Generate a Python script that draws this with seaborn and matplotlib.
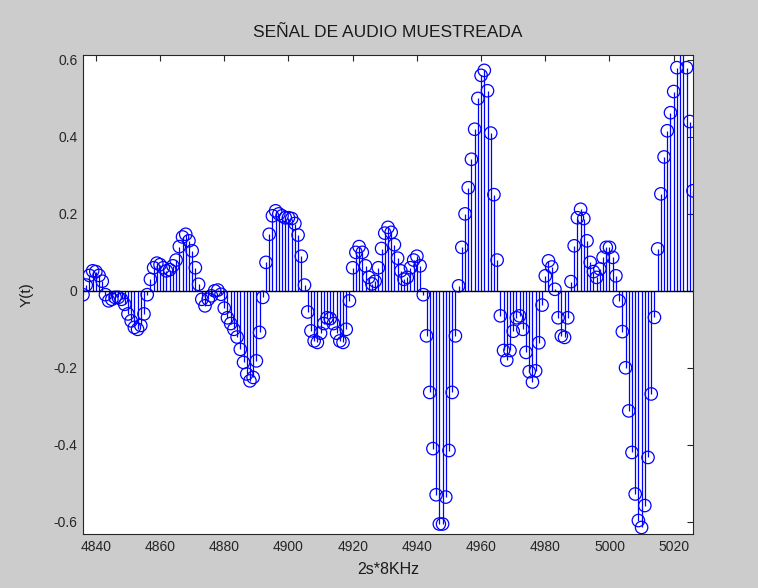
import numpy as np
import pandas as pd
import matplotlib
matplotlib.use("Agg")
import matplotlib.pyplot as plt
import seaborn as sns

# sample index range (n) and sampled audio values Y(t)
sample_start = 4836
sample_stop = 5026
signal_values = [
    -0.010, 0.015, 0.040, 0.052, 0.050, 0.040, 0.025, -0.010, -0.026, -0.022,
    -0.017, -0.017, -0.022, -0.035, -0.060, -0.078, -0.095, -0.100, -0.090, -0.060,
    -0.010, 0.030, 0.060, 0.072, 0.068, 0.060, 0.052, 0.055, 0.065, 0.080,
    0.115, 0.140, 0.147, 0.130, 0.104, 0.060, 0.017, -0.022, -0.039, -0.022,
    -0.013, 0.000, 0.002, -0.009, -0.045, -0.070, -0.085, -0.100, -0.120, -0.152,
    -0.186, -0.216, -0.234, -0.225, -0.182, -0.108, -0.017, 0.074, 0.147, 0.195,
    0.208, 0.200, 0.195, 0.190, 0.190, 0.188, 0.175, 0.145, 0.090, 0.015,
    -0.055, -0.104, -0.130, -0.134, -0.110, -0.085, -0.070, -0.072, -0.085, -0.110,
    -0.130, -0.134, -0.100, -0.026, 0.060, 0.100, 0.115, 0.100, 0.065, 0.035,
    0.018, 0.025, 0.060, 0.110, 0.150, 0.165, 0.152, 0.120, 0.085, 0.052,
    0.030, 0.035, 0.060, 0.080, 0.090, 0.065, -0.010, -0.117, -0.264, -0.410,
    -0.530, -0.606, -0.606, -0.536, -0.415, -0.264, -0.117, 0.013, 0.113, 0.200,
    0.268, 0.342, 0.420, 0.500, 0.560, 0.573, 0.520, 0.410, 0.250, 0.080,
    -0.065, -0.155, -0.180, -0.155, -0.105, -0.070, -0.065, -0.100, -0.160, -0.210,
    -0.237, -0.208, -0.135, -0.037, 0.039, 0.078, 0.062, 0.004, -0.070, -0.117,
    -0.121, -0.070, 0.024, 0.117, 0.190, 0.212, 0.188, 0.130, 0.074, 0.050,
    0.035, 0.057, 0.087, 0.113, 0.113, 0.087, 0.039, -0.026, -0.106, -0.200,
    -0.312, -0.420, -0.528, -0.597, -0.615, -0.558, -0.433, -0.268, -0.069, 0.109,
    0.252, 0.348, 0.416, 0.463, 0.518, 0.580, 0.640, 0.630, 0.580, 0.440,
    0.260,
]
x_ticks = [4840, 4860, 4880, 4900, 4920, 4940, 4960, 4980, 5000, 5020]
y_ticks = [-0.6, -0.4, -0.2, 0, 0.2, 0.4, 0.6]
y_tick_labels = ["-0.6", "-0.4", "-0.2", "0", "0.2", "0.4", "0.6"]

df = pd.DataFrame({
    "n": np.arange(sample_start, sample_stop + 1),
    "y": signal_values,
})

sns.set_style("white")
plt.rcParams["font.family"] = ["Liberation Sans", "DejaVu Sans"]

fig = plt.figure(figsize=(7.58, 5.88), dpi=100, facecolor="#cccccc")
ax = fig.add_axes([0.1095, 0.0918, 0.8047, 0.8147])
ax.set_facecolor("white")

# stems
ax.vlines(df["n"], 0, df["y"], colors="#0000ff", linewidth=0.9, zorder=2)
# markers
sns.scatterplot(data=df, x="n", y="y", ax=ax, marker="o", s=80,
                facecolors="none", edgecolor="#0000ff", linewidth=0.9,
                zorder=3, legend=False)
# baseline
ax.axhline(0, color="black", linewidth=1.0, zorder=4)

ax.set_xlim(4836, 5026)
ax.set_ylim(-0.632, 0.613)
ax.set_xticks(x_ticks)
ax.set_yticks(y_ticks)
ax.set_yticklabels(y_tick_labels)
ax.tick_params(direction="in", length=4, width=0.8, top=True, right=True,
               labelsize=10, colors="#262626", pad=4)
for s in ax.spines.values():
    s.set_color("#262626")
    s.set_linewidth(0.8)

ax.set_title("SEÑAL DE AUDIO MUESTREADA", fontsize=12.5, pad=13, color="#1a1a1a")
ax.set_xlabel("2s*8KHz", fontsize=11.5, labelpad=6, color="#1a1a1a")
ax.set_ylabel("Y(t)", fontsize=11, labelpad=14, color="#1a1a1a")

fig.savefig("out.png", dpi=100, facecolor=fig.get_facecolor())
plt.close(fig)
